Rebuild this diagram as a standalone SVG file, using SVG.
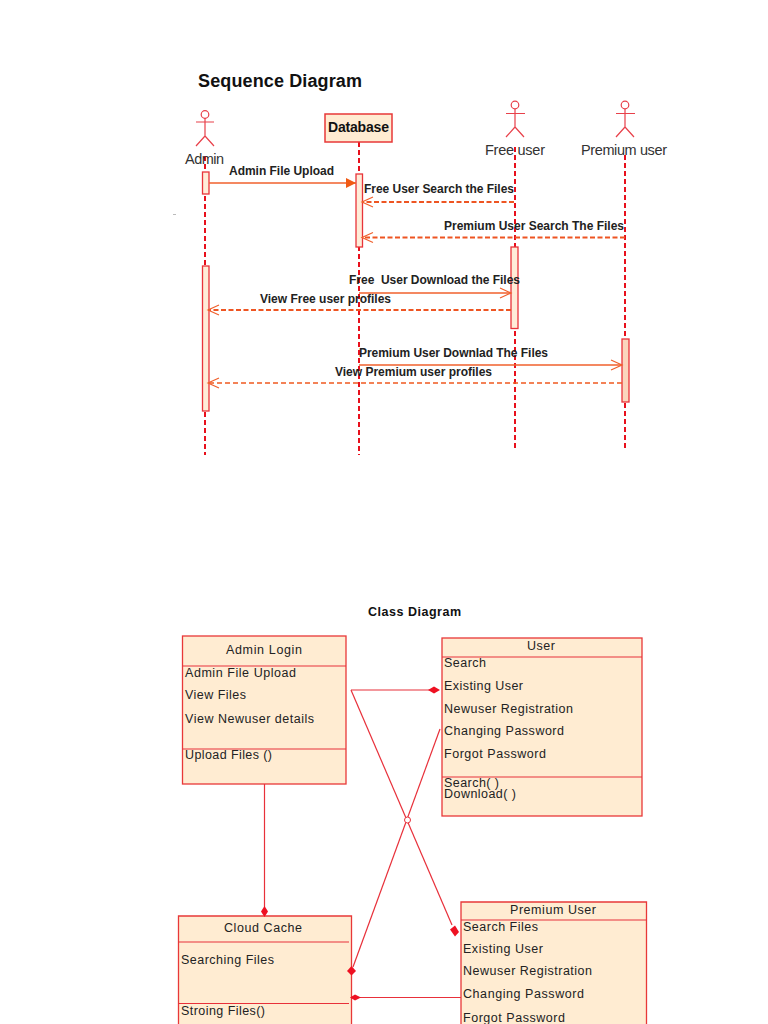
<svg xmlns="http://www.w3.org/2000/svg" width="768" height="1024" viewBox="0 0 768 1024">
<style>
text{font-family:"Liberation Sans",Arial,sans-serif;fill:#222}
.t{font-size:18px;font-weight:bold;fill:#111}
.ct{font-size:12.500px;font-weight:bold;fill:#111}
.a{font-size:14.500px;fill:#333}
.m{font-size:12px;font-weight:bold}
.c{font-size:12.500px}
.box{fill:#ffecd2;stroke:#e83838;stroke-width:1.3}
.act{fill:#ffecd8;stroke:#e8343a;stroke-width:1.300}
.life{fill:none;stroke:#e8101c;stroke-width:2;stroke-dasharray:5 3}
.fig{fill:none;stroke:#e8404a;stroke-width:1.2}
.sol{fill:none;stroke:#f0602c;stroke-width:1.5}
.das{fill:none;stroke:#ee5522;stroke-width:2;stroke-dasharray:5 2.5}
.thin{fill:none;stroke:#f05a20;stroke-width:1.400;stroke-dasharray:5 3}
.rel{fill:none;stroke:#e8303a;stroke-width:1.2}
.dia{fill:#ee1122;stroke:none}
</style>
<defs>
<marker id="open" markerUnits="userSpaceOnUse" markerWidth="14" markerHeight="14" refX="12" refY="7" orient="auto"><path d="M1 2 L12 7 L1 12" fill="none" stroke="#f0602c" stroke-width="1.2"/></marker>
<marker id="fill" markerUnits="userSpaceOnUse" markerWidth="12" markerHeight="12" refX="10" refY="6" orient="auto"><path d="M0 1 L10 6 L0 11Z" fill="#f05a14"/></marker>
</defs>
<text class="t" x="198" y="87" textLength="164">Sequence Diagram</text>
<text class="ct" x="368" y="616" textLength="93">Class Diagram</text>
<path d="M173 214.500h3" stroke="#bbb" stroke-width="1"/>
<g id="lifelines">
<path class="life" d="M205 156V455"/>
<path class="life" d="M359 142V455"/>
<path class="life" d="M515 147V448"/>
<path class="life" d="M625 155V448"/>
</g>
<g id="admin">
<circle class="fig" cx="205" cy="114.500" r="3.800"/>
<path class="fig" d="M205 118V136M196 122H214M196 146L205 136L214 146"/>
<text class="a" x="185" y="164" textLength="39">Admin</text>
<rect class="act" x="202.500" y="172" width="6.500" height="22"/>
<rect class="act" x="202.500" y="266" width="6.500" height="145"/>
</g>
<g id="database">
<rect class="box" x="325" y="114" width="67" height="28" style="stroke-width:1.5"/>
<text x="328" y="132" textLength="61" style="font-size:14px;font-weight:bold;fill:#111">Database</text>
<rect class="act" x="356" y="174" width="6.500" height="73"/>
</g>
<g id="free-user">
<circle class="fig" cx="515" cy="105" r="3.800"/>
<path class="fig" d="M515 109V127M506 113.500H525M506 137L515 127L524 137"/>
<text class="a" x="485" y="155" textLength="60">Free user</text>
<rect class="act" x="511" y="247" width="7" height="81.500"/>
</g>
<g id="premium-user">
<circle class="fig" cx="625" cy="105" r="3.800"/>
<path class="fig" d="M625 109V127M616 113.500H635M616 137L625 127L634 137"/>
<text class="a" x="581" y="155" textLength="86">Premium user</text>
<rect class="act" x="622" y="339" width="7" height="63" style="fill:#fbd5bd"/>
</g>
<g id="admin-login">
<rect class="box" x="182.500" y="636" width="163.500" height="148"/>
<path class="rel" d="M182.500 666H346M182.500 749H346"/>
<text class="c" x="226" y="654" textLength="76">Admin Login</text>
<text class="c" x="185" y="677" textLength="111">Admin File Upload</text>
<text class="c" x="185" y="699" textLength="61">View Files</text>
<text class="c" x="185" y="723" textLength="129">View Newuser details</text>
<text class="c" x="185" y="759" textLength="87">Upload Files ()</text>
</g>
<g id="user">
<rect class="box" x="442" y="638" width="200" height="178"/>
<path class="rel" d="M442 657H642M442 777H642"/>
<text class="c" x="527" y="650" textLength="28">User</text>
<text class="c" x="444" y="667" textLength="42">Search</text>
<text class="c" x="444" y="690" textLength="79">Existing User</text>
<text class="c" x="444" y="713" textLength="129">Newuser Registration</text>
<text class="c" x="444" y="735" textLength="120">Changing Password</text>
<text class="c" x="444" y="758" textLength="102">Forgot Password</text>
<text class="c" x="444" y="787" textLength="55">Search( )</text>
<text class="c" x="444" y="798" textLength="72">Download( )</text>
</g>
<g id="cloud-cache">
<path class="box" d="M178.500 1026V916H351.500V1026"/>
<path class="rel" d="M178.500 942H349M178.500 1003.500H349"/>
<text class="c" x="224" y="932" textLength="78">Cloud Cache</text>
<text class="c" x="181" y="964" textLength="93">Searching Files</text>
<text class="c" x="181" y="1015" textLength="84">Stroing Files()</text>
</g>
<g id="premium-class">
<path class="box" d="M461 1026V902H646.500V1026"/>
<path class="rel" d="M461 920H646.500"/>
<text class="c" x="510" y="914" textLength="86">Premium User</text>
<text class="c" x="463" y="931" textLength="75">Search Files</text>
<text class="c" x="463" y="953" textLength="80">Existing User</text>
<text class="c" x="463" y="975" textLength="129">Newuser Registration</text>
<text class="c" x="463" y="998" textLength="121">Changing Password</text>
<text class="c" x="463" y="1022" textLength="102">Forgot Password</text>
</g>
<g id="connectors">
<path class="sol" d="M209 183H356" marker-end="url(#fill)"/>
<path class="das" d="M514 202H362" marker-end="url(#open)"/>
<path class="das" d="M625 237.500H362" marker-end="url(#open)"/>
<path class="sol" d="M359 293H511" marker-end="url(#open)"/>
<path class="das" d="M511 310H208" marker-end="url(#open)"/>
<path class="sol" d="M359 365H622" marker-end="url(#open)"/>
<path class="thin" d="M622 383H208" marker-end="url(#open)"/>
<path class="rel" d="M351 690H432"/>
<path class="rel" d="M351 690L452 925"/>
<path class="rel" d="M440 729L353 967"/>
<path class="rel" d="M264.500 784V908"/>
<path class="rel" d="M461 997.500H360"/>
<circle cx="407.500" cy="820" r="3" fill="#fff" stroke="#e8303a" stroke-width="1"/>
<path class="dia" d="M428 690L434 686.500L440 690L434 693.500Z"/>
<path class="dia" d="M450 929.500L455 925.500L459 932L455 936.500Z"/>
<path class="dia" d="M347 971L351.500 966L356 971L351.500 975.500Z"/>
<path class="dia" d="M264.500 906L268 911.500L264.500 917L261 911.500Z"/>
<path class="dia" d="M350 997.500L355 994.500L361 997.500L355 1000.500Z"/>
<text class="m" x="229" y="175" textLength="105">Admin File Upload</text>
<text class="m" x="364" y="193" textLength="150">Free User Search the Files</text>
<text class="m" x="444" y="230" textLength="180">Premium User Search The Files</text>
<text class="m" x="349" y="284" textLength="171" xml:space="preserve">Free  User Download the Files</text>
<text class="m" x="260" y="303" textLength="131">View Free user profiles</text>
<text class="m" x="359" y="357" textLength="189">Premium User Downlad The Files</text>
<text class="m" x="335" y="376" textLength="157">View Premium user profiles</text>
</g>
</svg>
